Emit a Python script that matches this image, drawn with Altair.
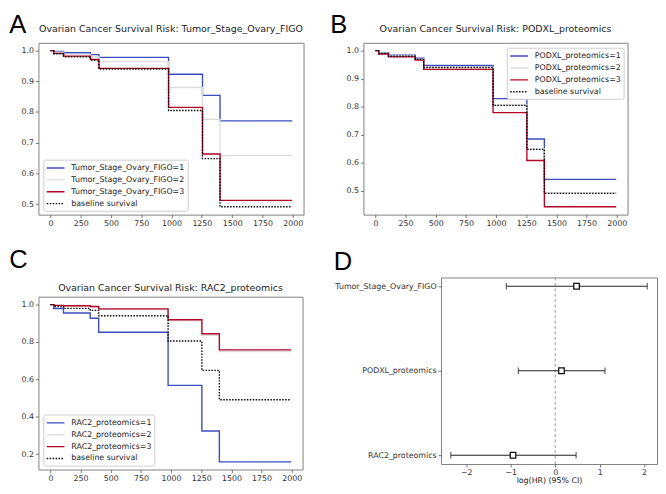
import altair as alt
import pandas as pd

# ---------------- data ----------------
TIMES = [0, 27, 108, 330, 400, 975, 1255, 1400, 1995]
X_TICKS = [0, 250, 500, 750, 1000, 1250, 1500, 1750, 2000]

BASELINE = [1.0, 0.990, 0.980, 0.969, 0.940, 0.805, 0.648, 0.491, 0.491]

A_NAMES = ["Tumor_Stage_Ovary_FIGO=1", "Tumor_Stage_Ovary_FIGO=2",
           "Tumor_Stage_Ovary_FIGO=3", "baseline survival"]
A_LEVEL1 = [1.0, 0.997, 0.993, 0.987, 0.978, 0.923, 0.854, 0.771, 0.771]
A_LEVEL2 = [1.0, 0.995, 0.988, 0.980, 0.964, 0.880, 0.776, 0.658, 0.658]
A_LEVEL3 = [1.0, 0.991, 0.982, 0.971, 0.942, 0.815, 0.663, 0.512, 0.512]

B_NAMES = ["PODXL_proteomics=1", "PODXL_proteomics=2",
           "PODXL_proteomics=3", "baseline survival"]
B_LEVEL1 = [1.0, 0.992, 0.984, 0.973, 0.947, 0.829, 0.685, 0.541, 0.541]
B_LEVEL2 = [1.0, 0.991, 0.981, 0.970, 0.941, 0.806, 0.649, 0.493, 0.493]
B_LEVEL3 = [1.0, 0.988, 0.978, 0.966, 0.933, 0.779, 0.608, 0.443, 0.443]

C_NAMES = ["RAC2_proteomics=1", "RAC2_proteomics=2",
           "RAC2_proteomics=3", "baseline survival"]
C_LEVEL1 = [1.0, 0.979, 0.955, 0.927, 0.852, 0.568, 0.324, 0.159, 0.159]
C_LEVEL2 = [1.0, 0.995, 0.992, 0.987, 0.973, 0.913, 0.836, 0.749, 0.749]
C_LEVEL3 = [1.0, 0.996, 0.994, 0.990, 0.977, 0.919, 0.844, 0.758, 0.758]

FOREST_NAMES = ["Tumor_Stage_Ovary_FIGO", "PODXL_proteomics", "RAC2_proteomics"]
FOREST_COEF = [0.48, 0.14, -0.95]
FOREST_LOWER = [-1.10, -0.83, -2.35]
FOREST_UPPER = [2.07, 1.12, 0.47]
FOREST_TICKS = [-2, -1, 0, 1, 2]
ZERO_LINE = [0]

LETTERS = ["A", "B", "C", "D"]
TITLES = ["Ovarian Cancer Survival Risk: Tumor_Stage_Ovary_FIGO",
          "Ovarian Cancer Survival Risk: PODXL_proteomics",
          "Ovarian Cancer Survival Risk: RAC2_proteomics"]

# ---------------- styles ----------------
COLORS = ["#3b4cc0", "#dddddd", "#b40426", "#000000"]
DASHES = [[1, 0], [1, 0], [1, 0], [1.5, 1.5]]
FONT = "DejaVu Sans"
XDOM = [-99.5, 2089.5]
INDEP = dict(color="independent", strokeDash="independent")


def letter_layer(letter, lx, ly):
    return alt.Chart(pd.DataFrame({"letter": [letter]})).mark_text(
        font="Liberation Sans", fontSize=26, align="left", baseline="top",
        color="#000000"
    ).encode(text="letter:N", x=alt.value(lx), y=alt.value(ly))


def km_lines(names, series, ydom, yvals, orient):
    rows = []
    for name, vals in zip(names, series):
        for t, v in zip(TIMES, vals):
            rows.append({"time": t, "surv": v, "group": name})
    df = pd.DataFrame(rows)
    leg = alt.Legend(
        title=None, orient=orient, offset=4.5, fillColor="white",
        strokeColor="#cccccc", cornerRadius=2, padding=2.5,
        labelFontSize=8, labelFont=FONT, labelColor="#222222", labelLimit=0,
        symbolType="M-1,0L2.6,0", symbolSize=100, symbolStrokeWidth=1.4,
        labelOffset=14, rowPadding=2.1,
    )
    return alt.Chart(df).mark_line(interpolate="step-after", strokeWidth=1.4).encode(
        x=alt.X("time:Q", scale=alt.Scale(domain=XDOM, nice=False, zero=False),
                axis=alt.Axis(values=X_TICKS, format="d", title=None,
                              labelFlush=False, labelOverlap=False)),
        y=alt.Y("surv:Q", scale=alt.Scale(domain=ydom, nice=False, zero=False),
                axis=alt.Axis(values=yvals, format=".1f", title=None,
                              labelFlush=False, labelOverlap=False)),
        color=alt.Color("group:N", scale=alt.Scale(domain=names, range=COLORS), legend=leg),
        strokeDash=alt.StrokeDash("group:N", scale=alt.Scale(domain=names, range=DASHES), legend=leg),
        order=alt.Order("time:Q"),
    )


def km_panel(names, series, title, ydom, yvals, orient, w, h, letter, lx, ly):
    lines = km_lines(names, series, ydom, yvals, orient)
    # title is laid out from the top of the panel bounds (the letter), so pull it back down
    return alt.layer(lines, letter_layer(letter, lx, ly)).properties(
        width=w, height=h,
        title=alt.TitleParams(text=title, fontSize=9.6, fontWeight="normal", font=FONT,
                              color="#222222", frame="group", anchor="middle",
                              offset=9 + ly),
    )


panel_a = km_panel(A_NAMES, [A_LEVEL1, A_LEVEL2, A_LEVEL3, BASELINE], TITLES[0],
                   [0.4655, 1.0255], [0.5, 0.6, 0.7, 0.8, 0.9, 1.0], "bottom-left",
                   270, 175, LETTERS[0], -29.7, -30.5)
panel_b = km_panel(B_NAMES, [B_LEVEL1, B_LEVEL2, B_LEVEL3, BASELINE], TITLES[1],
                   [0.415, 1.028], [0.5, 0.6, 0.7, 0.8, 0.9, 1.0], "top-right",
                   269, 175, LETTERS[1], -33.8, -30.5)

# panel C: header (letter + title) lives in a thin strip above the plot, so that the
# plot itself can sit lower than panel D's plot in the same row
header_c = alt.layer(
    letter_layer(LETTERS[2], -29.8, -30.4),
    alt.Chart(pd.DataFrame({"title": [TITLES[2]]})).mark_text(
        font=FONT, fontSize=9.6, color="#222222", align="center", baseline="middle"
    ).encode(text="title:N", x=alt.value(134.5), y=alt.value(11)),
).properties(width=269, height=1, view=alt.ViewBackground(stroke="transparent"))
plot_c = km_lines(C_NAMES, [C_LEVEL1, C_LEVEL2, C_LEVEL3, BASELINE],
                  [0.118, 1.042], [0.2, 0.4, 0.6, 0.8, 1.0], "bottom-left").properties(
    width=269, height=176)
panel_c = alt.vconcat(header_c, plot_c, spacing=1.6).resolve_scale(**INDEP).resolve_legend(**INDEP)

# ---------------- forest plot ----------------
fdf = pd.DataFrame({"name": FOREST_NAMES, "coef": FOREST_COEF,
                    "lo": FOREST_LOWER, "hi": FOREST_UPPER})
fx_scale = alt.Scale(domain=[-2.57, 2.29], nice=False, zero=False)
fx_axis = alt.Axis(values=FOREST_TICKS, format="d", title="log(HR) (95% CI)",
                   titlePadding=0, labelFlush=False)
yenc = alt.Y("name:N", sort=FOREST_NAMES,
             scale=alt.Scale(type="point", domain=FOREST_NAMES, padding=0.104),
             axis=alt.Axis(title=None, labelLimit=0))


def fx(field):
    return alt.X(field, scale=fx_scale, axis=fx_axis, title="log(HR) (95% CI)")


zero = alt.Chart(pd.DataFrame({"z": ZERO_LINE})).mark_rule(
    color="#999999", strokeDash=[3, 2.5], strokeWidth=1).encode(x=fx("z:Q"))
ci = alt.Chart(fdf).mark_rule(color="#222222", strokeWidth=1.2).encode(
    x=fx("lo:Q"), x2="hi:Q", y=yenc)
cap_lo = alt.Chart(fdf).mark_tick(color="#222222", thickness=1.2, size=6.5).encode(
    x=fx("lo:Q"), y=yenc)
cap_hi = alt.Chart(fdf).mark_tick(color="#222222", thickness=1.2, size=6.5).encode(
    x=fx("hi:Q"), y=yenc)
squares = alt.Chart(fdf).mark_square(size=32, filled=True, fill="white", stroke="#111111",
                                     strokeWidth=1.3, opacity=1).encode(
    x=fx("coef:Q"), y=yenc)
panel_d = alt.layer(zero, ci, cap_lo, cap_hi, squares,
                    letter_layer(LETTERS[3], -109.3, -28.7)).properties(width=220, height=190)

row1 = alt.hconcat(panel_a, panel_b, spacing=25).resolve_scale(**INDEP).resolve_legend(**INDEP)
row2 = alt.hconcat(panel_c, panel_d, spacing=30).resolve_scale(**INDEP).resolve_legend(**INDEP)

chart = alt.vconcat(row1, row2, spacing=19).resolve_scale(**INDEP).resolve_legend(
    **INDEP).properties(padding=0).configure(
    font=FONT
).configure_view(
    stroke="#7f7f7f", strokeWidth=1
).configure_axis(
    grid=False, domain=False, tickColor="#555555", tickSize=3, tickWidth=0.8,
    labelFontSize=8, labelColor="#333333", labelFont=FONT, labelPadding=2,
    titleFontSize=8, titleFont=FONT, titleFontWeight="normal", titleColor="#222222",
)

chart.save("out.html", embed_options={"renderer": "svg", "actions": False})
